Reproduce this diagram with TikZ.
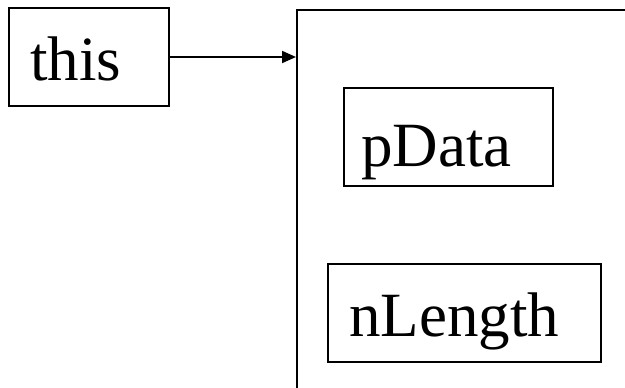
\documentclass[tikz,border=0pt]{standalone}
\usepackage{fontspec}
\setmainfont{Liberation Serif}
\usetikzlibrary{arrows.meta}
\begin{document}
\begin{tikzpicture}[x=1pt,y=-1pt,
  box/.style={draw=black, line width=1.7pt, inner sep=0pt, fill=none},
  lbl/.style={inner sep=0pt, font=\fontsize{63}{70}\selectfont},
  arrow/.style={draw=black, line width=1.9pt, -{Triangle[length=14pt,width=12pt]}}]
\useasboundingbox (0,0) rectangle (625,388);
\node[box, minimum width=160pt, minimum height=98pt] (thisbox) at (89,57) {};
\node[lbl, anchor=base west] (thistxt) at (30,81) {this};
\node[box, minimum width=420pt, minimum height=460pt, anchor=north west] (obj) at (296,9) {};
\node[box, minimum width=209pt, minimum height=98pt] (pbox) at (448.5,137) {};
\node[lbl, anchor=base west] (ptxt) at (361,166.7) {pData};
\node[box, minimum width=273pt, minimum height=98pt] (nbox) at (464.5,313) {};
\node[lbl, anchor=base west] (ntxt) at (349,336.7) {nLength};
\draw[arrow] (thisbox.east) -- (thisbox.east -| obj.west);
\end{tikzpicture}
\end{document}
